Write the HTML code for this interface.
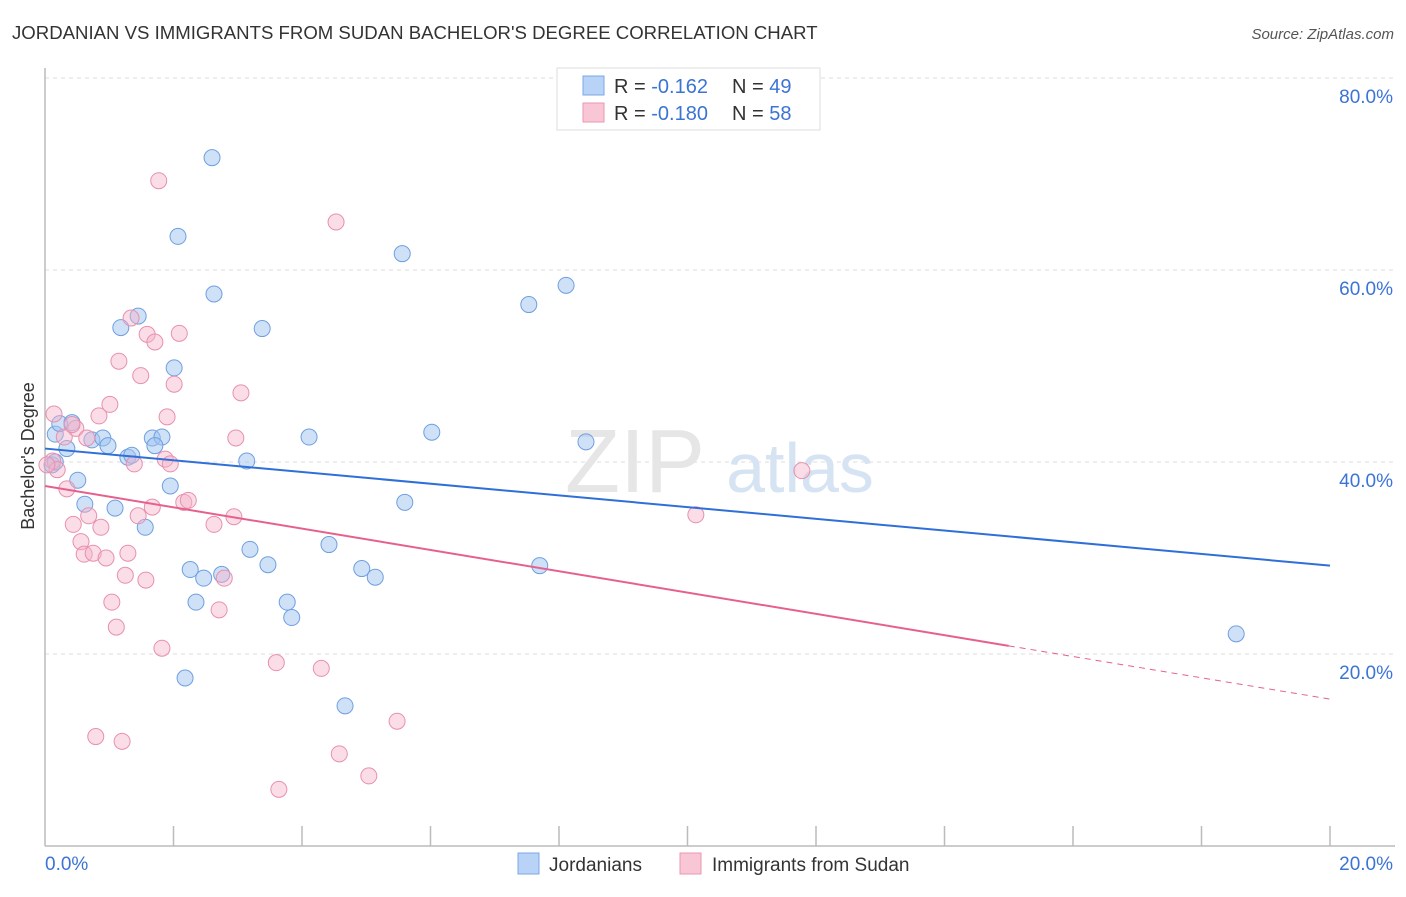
<!DOCTYPE html>
<html><head><meta charset="utf-8"><style>
body{margin:0;background:#fff;font-family:"Liberation Sans",sans-serif;}
svg text{font-family:"Liberation Sans",sans-serif;}
</style></head><body>
<svg width="1406" height="892" xmlns="http://www.w3.org/2000/svg" id="chart">
<text x="12" y="39" font-size="18.6" fill="#333">JORDANIAN VS IMMIGRANTS FROM SUDAN BACHELOR'S DEGREE CORRELATION CHART</text>
<text x="1394" y="39" font-size="15" fill="#555" font-style="italic" text-anchor="end">Source: ZipAtlas.com</text>
<g id="grid"></g>
<text x="635" y="492" font-size="90" fill="#e6e6e6" font-family="Liberation Serif" text-anchor="middle">ZIP</text>
<text x="800" y="492" font-size="70" fill="#d5e3f3" text-anchor="middle">atlas</text>
<g id="axes"></g>
<g id="points"></g>
<g id="trends"></g>
<text transform="translate(34,456) rotate(-90)" font-size="18" fill="#333" text-anchor="middle">Bachelor's Degree</text>
<g>
<rect x="557" y="68" width="263" height="62" fill="#fff" stroke="#ddd"/>
<rect x="583" y="76" width="21" height="19" fill="#b8d3f5" stroke="#7aa7e6"/>
<rect x="583" y="103" width="21" height="19" fill="#f9c6d6" stroke="#eb97b2"/>
<text x="614" y="93" font-size="20" fill="#333">R = <tspan fill="#3b74d4">-0.162</tspan><tspan x="732">N = </tspan><tspan fill="#3b74d4">49</tspan></text>
<text x="614" y="120" font-size="20" fill="#333">R = <tspan fill="#3b74d4">-0.180</tspan><tspan x="732">N = </tspan><tspan fill="#3b74d4">58</tspan></text>
</g>
<g>
<rect x="518" y="853" width="21" height="21" fill="#b8d3f5" stroke="#7aa7e6"/>
<text x="549" y="871" font-size="19" fill="#333">Jordanians</text>
<rect x="680" y="853" width="21" height="21" fill="#f9c6d6" stroke="#eb97b2"/>
<text x="712" y="871" font-size="19" fill="#333">Immigrants from Sudan</text>
</g>
</svg>
<script>
const xTicks=[0,2,4,6,8,10,12,14,16,18,20];
const yTicks=[20,40,60,80];
const yTickLabels=["20.0%","40.0%","60.0%","80.0%"];
const blueX=[2.60,2.07,5.56,8.11,7.53,2.63,1.45,1.18,3.38,2.01,0.16,0.23,0.42,0.73,0.90,0.98,0.34,1.29,1.35,1.67,1.82,1.71,4.11,6.02,8.42,3.14,0.51,1.95,0.62,1.09,5.60,1.56,3.19,4.42,3.47,2.26,2.47,2.75,4.93,5.14,7.70,2.35,3.77,3.84,18.54,2.18,4.67,0.11,0.16];
const blueY=[71.7,63.5,61.7,58.4,56.4,57.5,55.2,54.0,53.9,49.8,42.9,44.0,44.1,42.3,42.5,41.7,41.4,40.5,40.7,42.5,42.6,41.7,42.6,43.1,42.1,40.1,38.1,37.5,35.6,35.2,35.8,33.2,30.9,31.4,29.3,28.8,27.9,28.3,28.9,28.0,29.2,25.4,25.4,23.8,22.1,17.5,14.6,39.7,40.0];
const pinkX=[1.77,4.53,1.34,1.59,2.09,1.71,1.15,1.49,2.01,3.05,0.14,1.01,0.84,1.90,0.30,0.48,0.65,2.97,0.42,0.12,0.19,1.87,1.95,1.39,11.78,0.34,2.16,2.23,1.67,0.68,1.45,2.94,2.63,0.44,0.87,10.13,0.56,0.61,0.75,0.95,1.29,1.25,1.57,2.79,1.04,2.71,1.11,1.82,3.60,4.30,5.48,0.79,1.20,4.58,5.04,3.64,0.03];
const pinkY=[69.3,65.0,55.0,53.3,53.4,52.5,50.5,49.0,48.1,47.2,45.0,46.0,44.8,44.7,42.6,43.5,42.5,42.5,43.9,40.1,39.2,40.3,39.8,39.8,39.1,37.2,35.8,36.0,35.3,34.4,34.4,34.3,33.5,33.5,33.2,34.5,31.7,30.4,30.5,30.0,30.5,28.2,27.7,27.9,25.4,24.6,22.8,20.6,19.1,18.5,13.0,11.4,10.9,9.6,7.3,5.9,39.7];
const blueTrend=[41.4,29.2];
const pinkTrend=[37.5,15.3];
const pinkSolidEnd=15.0;
const NS="http://www.w3.org/2000/svg";
const X0=45,X1=1330,Y0=846;
const sx=v=>X0+(X1-X0)*v/20;
const sy=v=>Y0-v*9.6;
function mk(tag,attrs,parent){const e=document.createElementNS(NS,tag);for(const k in attrs)e.setAttribute(k,attrs[k]);parent.appendChild(e);return e;}
const grid=document.getElementById('grid'),axes=document.getElementById('axes');
yTicks.forEach((t,i)=>{
 const l=mk('line',{x1:45,x2:1395,y1:sy(t),y2:sy(t),stroke:'#ddd','stroke-dasharray':'4,4'},grid);
 
 
 const tx=mk('text',{x:1393,y:sy(t)+25,'font-size':19,fill:'#3b74d4','text-anchor':'end'},axes);
 tx.textContent=yTickLabels[i];
 
 
});
const ax=mk('line',{x1:45,x2:1395,y1:Y0,y2:Y0,stroke:'#bbb','stroke-width':1.5},axes);


const ay=mk('line',{x1:45,x2:45,y1:68,y2:Y0,stroke:'#bbb','stroke-width':1.5},axes);


xTicks.forEach(t=>{
 if(t===0)return;
 const l=mk('line',{x1:sx(t),x2:sx(t),y1:826,y2:Y0,stroke:'#bbb','stroke-width':1.5},axes);
 
 
});
const xl=mk('text',{x:45,y:870,'font-size':19,fill:'#3b74d4'},axes);xl.textContent='0.0%';


const xr=mk('text',{x:1393,y:870,'font-size':19,fill:'#3b74d4','text-anchor':'end'},axes);xr.textContent='20.0%';


const pts=document.getElementById('points');
blueX.forEach((x,i)=>{
 const c=mk('circle',{cx:sx(x),cy:sy(blueY[i]),r:8,fill:'rgba(160,195,240,0.5)',stroke:'#6f9fe0','stroke-width':1},pts);
 
 
});
pinkX.forEach((x,i)=>{
 const c=mk('circle',{cx:sx(x),cy:sy(pinkY[i]),r:8,fill:'rgba(245,180,202,0.45)',stroke:'#e890ae','stroke-width':1},pts);
 
 
});
const tr=document.getElementById('trends');
const bl=mk('line',{x1:sx(0),y1:sy(blueTrend[0]),x2:sx(20),y2:sy(blueTrend[1]),stroke:'#2f6fd8','stroke-width':2},tr);


const pm=pinkTrend[0]+(pinkTrend[1]-pinkTrend[0])*pinkSolidEnd/20;
const pl=mk('line',{x1:sx(0),y1:sy(pinkTrend[0]),x2:sx(pinkSolidEnd),y2:sy(pm),stroke:'#e6608e','stroke-width':2},tr);


const pd=mk('line',{x1:sx(pinkSolidEnd),y1:sy(pm),x2:sx(20),y2:sy(pinkTrend[1]),stroke:'#e6608e','stroke-width':1,'stroke-dasharray':'6,5'},tr);


</script>
</body></html>
